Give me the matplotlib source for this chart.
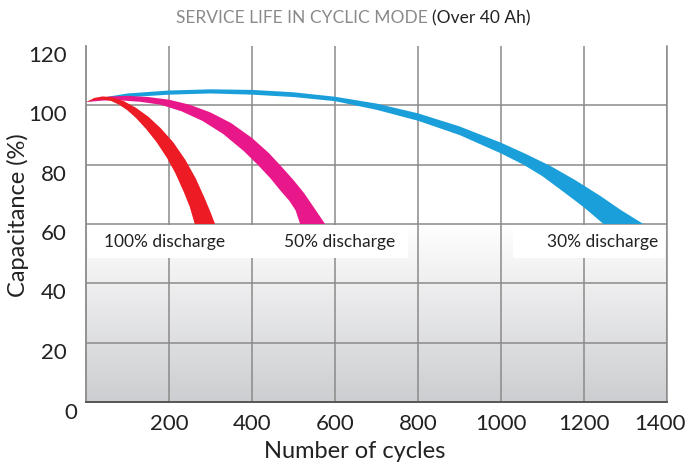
import matplotlib
matplotlib.use('Agg')
import matplotlib.pyplot as plt
import matplotlib.transforms as mtransforms
from matplotlib.colors import LinearSegmentedColormap
import numpy as np

plt.rcParams['font.family'] = ['Lato', 'DejaVu Sans']

# band edges for each discharge depth: (cycles, capacitance %)
red_outer_x = [0, 20, 40, 60, 90, 120, 150, 180, 210, 240, 265, 285, 300, 311]
red_outer_y = [101.1, 102.5, 103.0, 102.8, 101.5, 99.2, 96.2, 92.3, 87.6, 81.5, 75.2, 69.0, 64.0, 60.0]
red_inner_x = [0, 20, 40, 60, 80, 100, 120, 145, 170, 195, 215, 235, 250, 262]
red_inner_y = [101.1, 101.8, 102.0, 101.5, 100.2, 98.3, 95.8, 92.0, 87.6, 82.3, 77.2, 71.0, 65.8, 60.0]

mag_outer_x = [0, 30, 60, 100, 150, 200, 250, 300, 350, 400, 440, 470, 500, 525, 548, 565, 576]
mag_outer_y = [101.1, 102.4, 103.0, 103.2, 102.8, 101.9, 100.2, 97.6, 94.0, 89.0, 84.0, 79.5, 74.8, 70.5, 65.8, 62.3, 60.0]
mag_inner_x = [0, 40, 80, 130, 180, 230, 280, 330, 380, 415, 445, 470, 490, 505, 516]
mag_inner_y = [101.1, 101.6, 101.7, 101.2, 100.2, 98.0, 94.8, 90.4, 84.6, 79.8, 75.3, 71.0, 67.8, 64.6, 60.0]

blue_outer_x = [0, 40, 100, 200, 300, 400, 500, 600, 700, 800, 900, 1000, 1060, 1120, 1180, 1240, 1290, 1343]
blue_outer_y = [101.2, 102.6, 104.0, 105.0, 105.4, 105.2, 104.4, 102.9, 100.6, 97.3, 92.9, 87.4, 83.6, 79.5, 74.7, 69.4, 64.6, 60.0]
blue_inner_x = [0, 40, 100, 200, 300, 400, 500, 600, 700, 800, 900, 1000, 1054, 1100, 1150, 1200, 1247]
blue_inner_y = [101.2, 101.8, 102.7, 103.6, 104.0, 103.6, 102.8, 101.4, 98.5, 94.8, 90.0, 83.8, 80.0, 76.1, 70.9, 65.6, 60.0]

labels = ['100% discharge', '50% discharge', '30% discharge']
label_x = [190, 612, 1246]
colors = ['#ED1C24', '#E8178A', '#1A9FDA']

x_ticks = [200, 400, 600, 800, 1000, 1200, 1400]
y_ticks = [20, 40, 60, 80, 100, 120]

fig = plt.figure(figsize=(6.88, 4.71), dpi=100)
ax = fig.add_axes([86/688, 1-402/471, 581/688, 356/471])

# grey fade below the 60% line
fade = LinearSegmentedColormap.from_list('fade', ['#ffffff', '#cdced1'])
ax.imshow(np.linspace(1, 0, 256).reshape(-1, 1), cmap=fade, extent=[0, 1400, 0, 60],
          aspect='auto', zorder=0, origin='lower')
ax.set_xlim(0, 1400)
ax.set_ylim(0, 120)

ax.set_xticks(x_ticks)
ax.set_yticks(y_ticks)
ax.tick_params(length=0, labelsize=16, colors='#222222')
ax.tick_params(axis='x', pad=9)
ax.tick_params(axis='y', pad=14)
ax.grid(True, color='#8a8a8a', lw=1.1, zorder=1)
ax.set_axisbelow(True)
ax.get_ygridlines()[-1].set_visible(False)

# y labels sit a little below their lines
offset = mtransforms.ScaledTranslation(0, -8/100, fig.dpi_scale_trans)
for lab in ax.get_yticklabels():
    lab.set_transform(lab.get_transform() + offset)
last = ax.get_xticklabels()[-1]
last.set_transform(last.get_transform() + mtransforms.ScaledTranslation(-7/100, 0, fig.dpi_scale_trans))
ax.annotate('0', xy=(0, 0), xytext=(-11, -8), textcoords='offset points',
            ha='center', va='center', fontsize=16, color='#222222', annotation_clip=False)

ax.spines['top'].set_visible(False)
ax.spines['left'].set_color('#8a8a8a')
ax.spines['right'].set_color('#8a8a8a')
ax.spines['left'].set_linewidth(1.3)
ax.spines['right'].set_linewidth(1.1)
ax.spines['bottom'].set_color('#555555')
ax.spines['bottom'].set_linewidth(1.4)

# white strips behind the labels
ax.axhspan(48.5, 59.6, xmin=0.004, xmax=0.555, color='white', lw=0, zorder=1.5)
ax.axhspan(48.5, 59.6, xmin=0.735, xmax=0.996, color='white', lw=0, zorder=1.5)

bands = [(red_outer_x, red_outer_y, red_inner_x, red_inner_y),
         (mag_outer_x, mag_outer_y, mag_inner_x, mag_inner_y),
         (blue_outer_x, blue_outer_y, blue_inner_x, blue_inner_y)]
for (ox, oy, ix, iy), c, z in zip(bands, colors, [4, 3, 2]):
    ax.fill(ox + ix[::-1], oy + iy[::-1], color=c, lw=0, zorder=z)

for t, lx in zip(labels, label_x):
    ax.text(lx, 54, t, ha='center', va='center', fontsize=12.5, color='#222222', zorder=5)

ax.set_xlabel('Number of cycles', fontsize=17, color='#222222')
ax.xaxis.set_label_coords(0.463, -0.11)
ax.set_ylabel('Capacitance (%)', fontsize=17, color='#222222')
ax.yaxis.set_label_coords(-0.098, 0.525)

fig.text(432/688, 1-18/471, 'SERVICE LIFE IN CYCLIC MODE ', ha='right', va='center',
         fontsize=12.5, color='#8a8a8a')
fig.text(432/688, 1-18/471, '(Over 40 Ah)', ha='left', va='center',
         fontsize=12.5, color='#222222')

plt.savefig('out.png', dpi=100)
